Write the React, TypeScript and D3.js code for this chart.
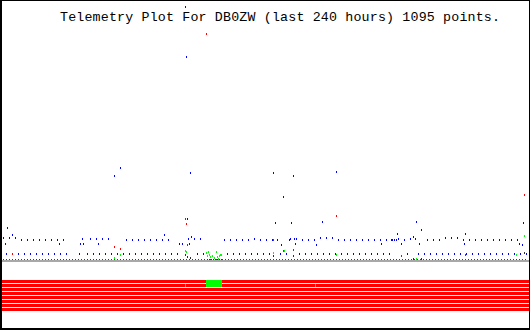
import React from "react";
import * as d3 from "d3";

// ---- data (x = hours into the 240 h window, y = raw telemetry value) ----
const titleText = "Telemetry Plot For DB0ZW (last 240 hours) 1095 points.";

const blueHours = [
  2.3, 0.5, 1.4, 3.2, 4.6, 5.9,
  8.7, 11.4, 14.1, 16.9, 19.6, 22.4, 25.1, 27.8, 26.0,
  35.6, 37.0, 36.5, 40.2, 42.9, 43.8, 45.6, 48.4,
  56.6, 59.3, 62.1, 64.8, 67.5, 70.3, 73.0, 73.9, 75.7, 80.8,
  1.8, 7.3, 10.0, 12.8, 15.5, 18.3, 21.0, 23.7, 26.5, 29.2, 35.1, 38.8, 41.5, 44.3, 47.0, 49.7,
  52.5, 55.2, 57.9, 60.7, 63.4, 66.2, 68.9, 71.6, 74.4, 77.1, 79.8,
  83.5, 84.0, 53.8, 51.1, 85.8, 84.4,
  84.9, 86.2, 87.6, 90.3, 82.1, 85.3,
  101.3, 104.0, 106.8, 109.5, 112.2, 115.0, 117.7, 120.5, 123.2, 125.5, 130.9, 131.4, 133.2, 134.1,
  136.9, 139.6, 142.4, 145.1, 147.8, 150.6, 153.3, 156.0,
  127.3, 133.7, 143.3,
  89.0, 91.7, 102.7, 105.4, 108.1, 110.9, 113.6, 116.3, 119.1, 121.8, 126.8, 129.6, 135.5, 138.2,
  141.0, 143.7, 146.5, 149.2, 151.9, 154.7, 157.4,
  123.6, 132.8, 128.2, 124.6, 131.9, 146.0, 152.4,
  158.8, 161.5, 164.3, 167.0, 169.7, 172.5, 175.2, 177.5, 177.9, 178.9, 179.8, 180.7, 183.4,
  186.2, 187.5, 188.5, 193.9, 196.7, 199.4, 202.1, 204.9, 207.6,
  210.3, 213.1, 215.8, 218.6, 221.3, 224.0, 226.8, 229.5, 232.2, 235.0,
  172.9, 182.1, 190.3, 210.8, 235.9, 237.3,
  160.2, 162.9, 165.6, 168.4, 171.1, 173.8, 176.6, 184.8, 189.8, 192.5, 195.3, 198.0, 200.8,
  203.5, 206.2, 209.0, 211.7, 214.4, 217.2, 219.9, 222.7, 225.4, 228.1, 230.9, 233.6, 236.3, 239.1,
  188.9, 191.2, 180.2, 211.3, 237.7,
];
const blueValues = [
  33, 23, 17, 23, 26, 23,
  21, 21, 21, 21, 21, 21, 21, 21, 17,
  17, 17, 22, 22, 22, 17, 22, 22,
  21, 21, 21, 21, 21, 21, 21, 26, 21, 17,
  7, 7, 7, 7, 7, 7, 7, 7, 7, 7, 7, 7, 7, 7, 7, 7,
  7, 7, 7, 7, 7, 7, 7, 7, 7, 7, 7,
  254, 204, 93, 85, 88, 42,
  22, 24, 22, 22, 17, 17,
  21, 21, 21, 21, 21, 22, 21, 21, 21, 21, 21, 22, 22, 22,
  21, 21, 21, 23, 23, 23, 21, 21,
  16, 17, 16,
  7, 7, 7, 7, 7, 7, 7, 7, 7, 7, 7, 7, 7, 7,
  7, 7, 7, 7, 7, 7, 7,
  88, 85, 64, 38, 38, 39, 89,
  21, 21, 21, 21, 21, 21, 21, 21, 21, 21, 21, 22, 21,
  22, 24, 22, 21, 21, 21, 23, 23, 23,
  21, 21, 21, 21, 21, 21, 21, 21, 21, 21,
  17, 17, 17, 17, 17, 16,
  7, 7, 7, 7, 7, 7, 7, 7, 7, 7, 7, 7, 7,
  7, 7, 7, 7, 7, 7, 7, 7, 7, 7, 7, 7, 7, 7,
  39, 31, 27, 27, 38,
];

const redHours = [4.6, 51.1, 53.8, 93.1, 83.5, 84.0, 84.4, 152.4, 238.2, 128.2, 132.8, 123.6, 182.1, 211.3];
const redValues = [7, 14, 12, 227, 42, 37, 16, 45, 66, 10, 11, 21, 5, 6];

const greenHours = [
  83.5, 84.0, 53.8, 51.1, 93.1, 93.5, 94.0, 94.4, 94.9, 95.8, 96.7, 97.6, 98.1, 98.6, 99.0, 99.5, 99.9,
  123.6, 128.7, 152.4, 188.9, 234.5, 238.2,
];
const greenValues = [10, 9, 6, 3, 8, 5, 9, 6, 4, 5, 3, 9, 4, 2, 5, 6, 6, 8, 10, 6, 2, 6, 25];

const blackHours = [83.5, 84.4, 85.8, 123.6, 132.8, 238.2, 187.5, 191.2, 93.5, 94.4, 95.3, 96.2, 97.1, 98.1, 99.0, 99.9];
const blackValues = [6, 4, 3, 5, 5, 8, 2, 2, 1, 1, 1, 1, 1, 1, 1, 1];

const baselineHours = [
  0.5, 1.8, 3.2, 4.6, 5.9, 7.3, 8.7, 10.0, 11.4, 12.8, 14.1, 15.5, 16.9, 18.3, 19.6, 21.0, 22.4, 23.7,
  25.1, 26.5, 27.8, 29.2, 30.6, 31.9, 33.3, 34.7, 36.0, 37.4, 38.8, 40.2, 41.5, 42.9, 44.3, 45.6, 47.0,
  48.4, 49.7, 51.1, 52.5, 53.8, 55.2, 56.6, 57.9, 59.3, 60.7, 62.1, 63.4, 64.8, 66.2, 67.5, 68.9, 70.3,
  71.6, 73.0, 74.4, 75.7, 77.1, 78.5, 79.8, 81.2, 82.6, 83.9, 85.3, 86.7, 88.1, 89.4, 90.8, 92.2, 93.5,
  94.9, 96.3, 97.6, 99.0, 100.4, 101.7, 103.1, 104.5, 105.9, 107.2, 108.6, 110.0, 111.3, 112.7, 114.1,
  115.4, 116.8, 118.2, 119.5, 120.9, 122.3, 123.6, 125.0, 126.4, 127.8, 129.1, 130.5, 131.9, 133.2,
  134.6, 136.0, 137.3, 138.7, 140.1, 141.4, 142.8, 144.2, 145.6, 146.9, 148.3, 149.7, 151.0, 152.4,
  153.8, 155.1, 156.5, 157.9, 159.2, 160.6, 162.0, 163.3, 164.7, 166.1, 167.5, 168.8, 170.2, 171.6,
  172.9, 174.3, 175.7, 177.0, 178.4, 179.8, 181.1, 182.5, 183.9, 185.2, 186.6, 188.0, 189.4, 190.7,
  192.1, 193.5, 194.8, 196.2, 197.6, 198.9, 200.3, 201.7, 203.0, 204.4, 205.8, 207.2, 208.5, 209.9,
  211.3, 212.6, 214.0, 215.4, 216.7, 218.1, 219.5, 220.8, 222.2, 223.6, 224.9, 226.3, 227.7, 229.1,
  230.4, 231.8, 233.2, 234.5, 235.9, 237.3, 238.6,
];
const baselineValue = 1;

// digital status bits: 8 rows, green where the bit was set
const bitIndex = [0, 1, 2, 3, 4, 5, 6, 7];
const bitOnStart = [93.1, 93.1, 83.5, 142.8];
const bitOnEnd = [99.9, 99.9, 83.5, 142.8];
const bitOnRow = [0, 1, 1, 1];

const W = 530;
const H = 330;

export default function App() {
  const x = d3.scaleLinear().domain([0, 240]).range([2, 528]);
  const y = d3.scaleLinear().domain([0, 260]).range([261, 1]);
  const band = d3.scaleBand<number>().domain(bitIndex).range([280, 311]).paddingInner(0.25);

  const mark = (hrs: number[], vals: number[], color: string, key: string) =>
    hrs.map((h, i) => (
      <rect
        key={key + i}
        x={Math.round(x(h))}
        y={Math.round(y(vals[i])) - 1}
        width={1}
        height={2}
        fill={color}
      />
    ));

  const x0 = Math.round(x(0)) - 1;
  const x1 = Math.round(x(240));

  return (
    <svg
      width={W}
      height={H}
      style={{ position: "absolute", left: 0, top: 0, background: "#fff" }}
      shapeRendering="crispEdges"
    >
      <rect x={0} y={0} width={W} height={H} fill="#fff" />
      <text
        x={60}
        y={21}
        fontFamily="'Liberation Mono', 'DejaVu Sans Mono', monospace"
        fontSize={13.3}
        textLength={440}
        lengthAdjust="spacing"
        fill="#000"
      >
        {titleText}
      </text>

      {baselineHours.map((h, i) => (
        <rect key={"b" + i} x={Math.round(x(h))} y={Math.round(y(baselineValue)) - 1} width={1} height={2} fill="#404040" />
      ))}
      {mark(blackHours, blackValues, "#303030", "k")}
      {mark(blueHours, blueValues, "#0000ff", "u")}
      {mark(redHours, redValues, "#ff0000", "r")}
      {mark(greenHours, greenValues, "#00ff00", "g")}

      <rect x={x0} y={Math.round(y(0)) - 1} width={x1 - x0 + 1} height={2} fill="#a8a8a8" />

      {bitIndex.map((b) => (
        <rect key={"s" + b} x={x0} y={band(b)} width={x1 - x0 + 1} height={band.bandwidth()} fill="#ff0000" />
      ))}
      {bitOnStart.map((s, i) => {
        const row = bitOnRow[i];
        const xs = Math.round(x(s));
        const xe = Math.round(x(bitOnEnd[i]));
        const nextOn = bitOnRow.some((r, j) => r === row + 1 && bitOnStart[j] === s);
        return (
          <rect
            key={"on" + i}
            x={xs}
            y={band(row)}
            width={xe - xs + 1}
            height={nextOn ? band.step() : band.bandwidth()}
            fill="#00ff00"
          />
        );
      })}

      <rect x={0.5} y={0.5} width={W - 1} height={H - 1} fill="none" stroke="#000" strokeWidth={1} />
      <line x1={1.5} y1={0} x2={1.5} y2={H} stroke="#000" strokeWidth={1} />
      <line x1={0} y1={328.5} x2={W} y2={328.5} stroke="#000" strokeWidth={1} />
    </svg>
  );
}
